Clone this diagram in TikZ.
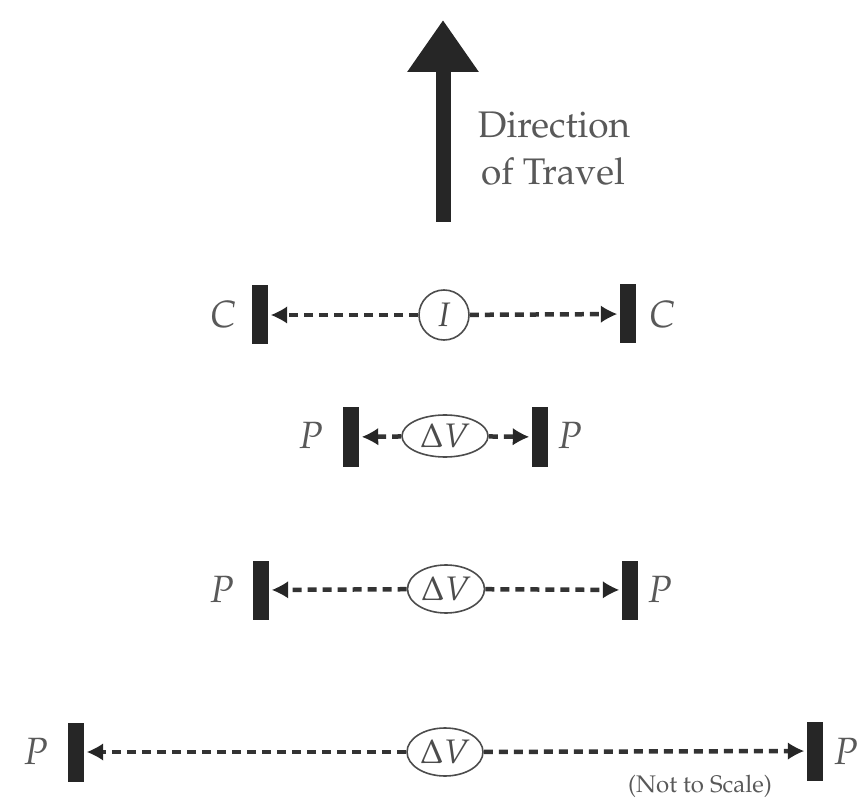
\documentclass[tikz,border=0pt]{standalone}
\usepackage[T1]{fontenc}
\usepackage{mathpazo}
\usetikzlibrary{arrows.meta,shapes.geometric}

\tikzset{
  bar/.style={fill=black!85, minimum width=16pt, minimum height=59pt, inner sep=0pt},
  lbl/.style={text=black!65, font=\fontsize{38}{40}\selectfont\itshape, inner sep=0pt, anchor=base},
  caption/.style={text=black!65, font=\fontsize{37}{40}\selectfont, inner sep=0pt, anchor=base},
  ring/.style={draw=black!70, line width=1.6pt, ellipse, inner sep=0pt, text=black!70,
               font=\fontsize{34}{36}\selectfont},
  link/.style={draw=black!80, line width=4.5pt, dash pattern=on 9pt off 6pt,
               -{Latex[length=16pt,width=17pt,line width=0pt,fill=black!85]}, shorten >=3pt},
}

\begin{document}
\begin{tikzpicture}[x=1pt,y=-1pt]
  \useasboundingbox (0,0) rectangle (868,802);

  % heading arrow
  \coordinate (tail) at (443,222);
  \coordinate (tip) at (443,20);
  \draw[line width=15pt, black!85, -{Triangle[length=52pt,width=68pt]}] (tail) -- (tip);
  \node[caption] (dir) at (554,138) {Direction};
  \node[caption] (trav) at (553,185) {of Travel};

  % row 1: C -- I -- C
  \node[bar] (c1l) at (260,315) {};
  \node[bar] (c1r) at (628,314) {};
  \node[ring, circle, minimum size=50pt] (i1) at (444,315) {$I$};
  \node[lbl] (c1lt) at (223,328) {C};
  \node[lbl] (c1rt) at (662,328) {C};
  \draw[link] (i1) -- (c1l);
  \draw[link] (i1) -- (c1r);

  % row 2: P -- dV -- P (short)
  \node[bar] (p2l) at (351,437) {};
  \node[bar] (p2r) at (540,437) {};
  \node[ring, minimum width=86pt, minimum height=42pt] (v2) at (445,436) {$\Delta V$};
  \node[lbl] (p2lt) at (311,449) {P};
  \node[lbl] (p2rt) at (570,449) {P};
  \draw[link] (v2) -- (p2l);
  \draw[link] (v2) -- (p2r);

  % row 3: P -- dV -- P
  \node[bar] (p3l) at (261,590) {};
  \node[bar] (p3r) at (630,590) {};
  \node[ring, minimum width=77pt, minimum height=48pt] (v3) at (446,589) {$\Delta V$};
  \node[lbl] (p3lt) at (222,602) {P};
  \node[lbl] (p3rt) at (660,602) {P};
  \draw[link] (v3) -- (p3l);
  \draw[link] (v3) -- (p3r);

  % row 4: P -- dV -- P (wide)
  \node[bar] (p4l) at (76,752) {};
  \node[bar] (p4r) at (815,751) {};
  \node[ring, minimum width=76pt, minimum height=48pt] (v4) at (445,752) {$\Delta V$};
  \node[lbl] (p4lt) at (36,764) {P};
  \node[lbl] (p4rt) at (846,764) {P};
  \draw[link] (v4) -- (p4l);
  \draw[link] (v4) -- (p4r);

  \node[caption, font=\fontsize{24}{26}\selectfont] (note) at (700,792) {(Not to Scale)};
\end{tikzpicture}
\end{document}
